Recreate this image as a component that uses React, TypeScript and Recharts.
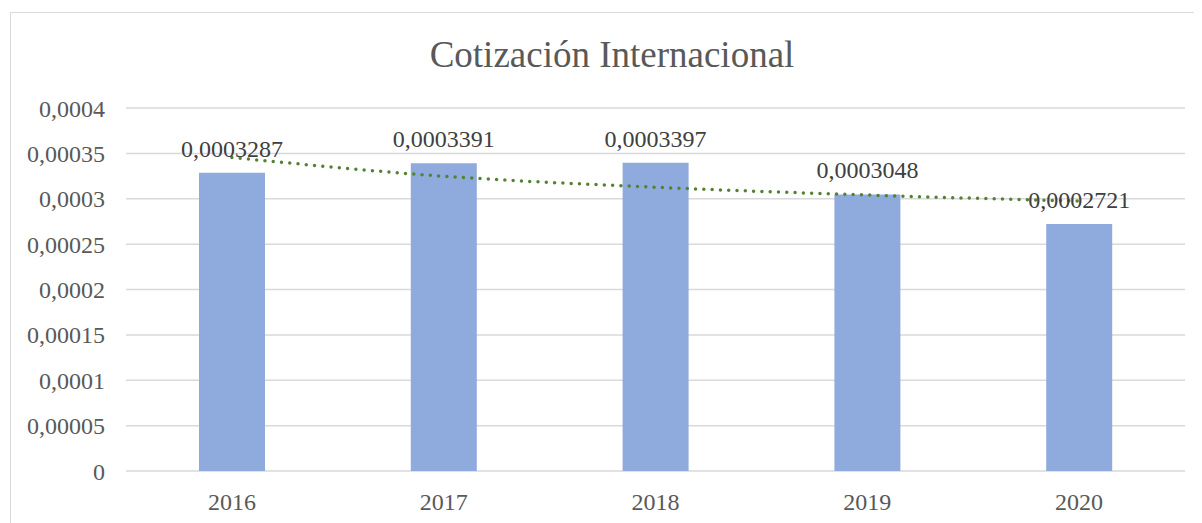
import React from "react";
import { ComposedChart, Bar, Line, XAxis, YAxis, CartesianGrid, LabelList } from "recharts";

const years = ["2016", "2017", "2018", "2019", "2020"];
const prices = [0.0003287, 0.0003391, 0.0003397, 0.0003048, 0.0002721];
const trend = [0.0003455, 0.0003248, 0.0003127, 0.0003041, 0.0002974];
const yTicks = [0, 0.00005, 0.0001, 0.00015, 0.0002, 0.00025, 0.0003, 0.00035, 0.0004];
const yTickLabels = ["0", "0,00005", "0,0001", "0,00015", "0,0002", "0,00025", "0,0003", "0,00035", "0,0004"];

const data = years.map((y, i) => ({ year: y, price: prices[i], trend: trend[i] }));

const FONT = '"Liberation Serif", "Times New Roman", serif';

export default function App() {
  return (
    <div style={{ position: "relative", width: 1194, height: 515, overflow: "hidden", fontFamily: FONT }}>
      <div
        style={{
          position: "absolute",
          left: 2,
          top: 4,
          width: 1300,
          height: 600,
          border: "1px solid #d9d9d9",
          boxSizing: "border-box",
        }}
      />
      <div
        style={{
          position: "absolute",
          left: 304,
          top: 27,
          width: 600,
          height: 40,
          lineHeight: "40px",
          textAlign: "center",
          fontSize: 37,
          color: "#595959",
          fontFamily: FONT,
        }}
      >
        Cotización Internacional
      </div>
      <div style={{ position: "absolute", left: 0, top: 0 }}>
        <ComposedChart
          width={1194}
          height={515}
          data={data}
          margin={{ top: 100, right: 17, bottom: 22, left: 18 }}
        >
          <CartesianGrid vertical={false} stroke="#d9d9d9" strokeWidth={1.5} />
          <XAxis
            dataKey="year"
            axisLine={false}
            tickLine={false}
            tickSize={0}
            tickMargin={22}
            height={30}
            tick={{ fill: "#595959", fontSize: 24, fontFamily: FONT }}
          />
          <YAxis
            domain={[0, 0.0004]}
            ticks={yTicks}
            tickFormatter={(v: number) => yTickLabels[yTicks.indexOf(v)] ?? String(v)}
            axisLine={false}
            tickLine={false}
            tickSize={0}
            tickMargin={21}
            width={100}
            interval={0}
            tick={{ fill: "#595959", fontSize: 24, fontFamily: FONT }}
          />
          <Bar dataKey="price" fill="#8faadc" barSize={66} isAnimationActive={false}>
            <LabelList
              dataKey="price"
              position="top"
              offset={16}
              formatter={(v: number) => String(v).replace(".", ",")}
              style={{ fill: "#404040", fontSize: 24, fontFamily: FONT }}
            />
          </Bar>
          <Line
            dataKey="trend"
            type="monotone"
            stroke="#548235"
            strokeWidth={3.5}
            strokeDasharray="0 8.3"
            strokeLinecap="round"
            dot={false}
            activeDot={false}
            isAnimationActive={false}
          />
        </ComposedChart>
      </div>
    </div>
  );
}
